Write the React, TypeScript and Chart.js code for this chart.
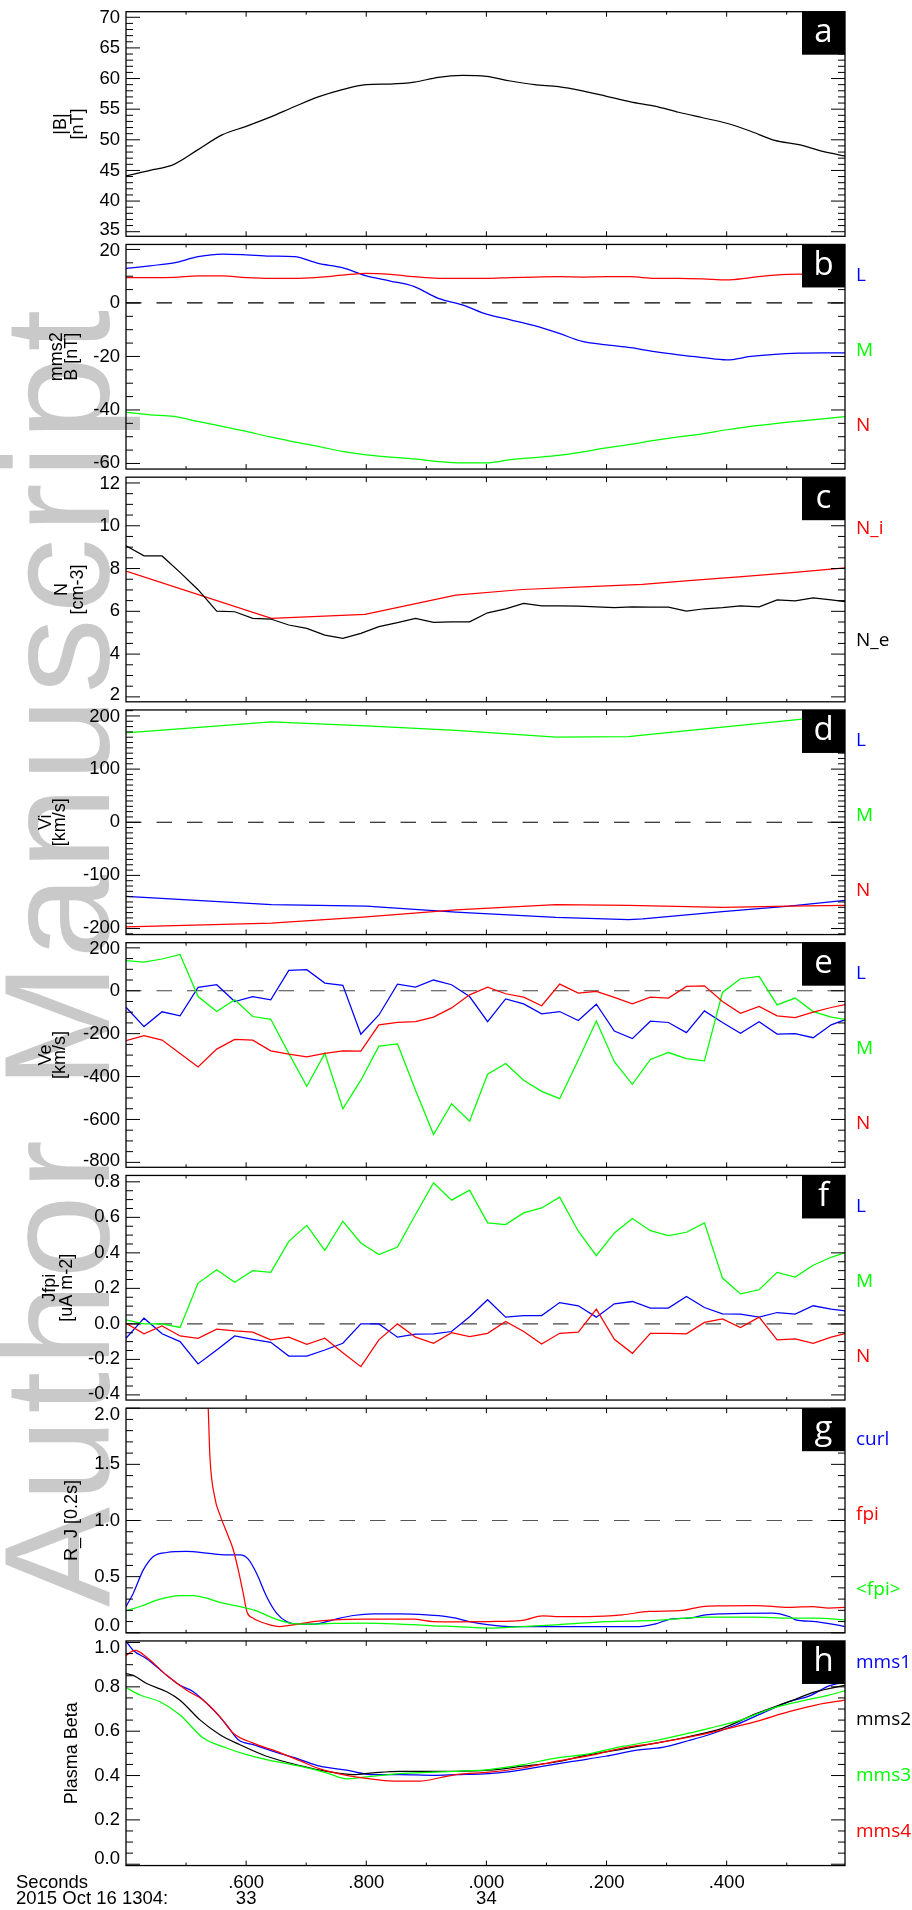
import React, { useEffect, useRef } from "react";
import { Chart, registerables } from "chart.js";

Chart.register(...registerables);

// ---------------------------------------------------------------------------
// Time axis (seconds after 13:04, 2015 Oct 16)
// ---------------------------------------------------------------------------
const T_START = 33.4;
const T_END = 34.597;

const xMinorTicks = [33.5, 33.7, 33.9, 34.1, 34.3, 34.5];
const xMajorTicks = [33.6, 33.8, 34.0, 34.2, 34.4];
const xMajorLabels = [".600", ".800", ".000", ".200", ".400"];
const xSecondLabels = ["33", "", "34", "", ""];

// 40 ms grid for the field / beta panels
const fieldTimes = [
  33.4, 33.44, 33.48, 33.52, 33.56, 33.6, 33.64, 33.68, 33.72, 33.76, 33.8,
  33.84, 33.88, 33.92, 33.96, 34.0, 34.04, 34.08, 34.12, 34.16, 34.2, 34.24,
  34.28, 34.32, 34.36, 34.4, 34.44, 34.48, 34.52, 34.56, 34.6,
];

// 30 ms FPI electron cadence
const fpiTimes = [
  33.4, 33.43, 33.46, 33.49, 33.52, 33.551, 33.581, 33.611, 33.641, 33.671,
  33.701, 33.731, 33.761, 33.791, 33.821, 33.852, 33.882, 33.912, 33.942,
  33.972, 34.002, 34.032, 34.062, 34.092, 34.122, 34.153, 34.183, 34.213,
  34.243, 34.273, 34.303, 34.333, 34.363, 34.393, 34.423, 34.454, 34.484,
  34.514, 34.544, 34.574, 34.604,
];

// (a) |B| [nT]
const absB = [
  44.1, 45.0, 46.0, 48.4, 50.8, 52.2, 53.7, 55.4, 57.0, 58.2, 59.0, 59.1, 59.4,
  60.2, 60.5, 60.35, 59.6, 59.0, 58.7, 58.0, 57.1, 56.2, 55.5, 54.5, 53.6, 52.7,
  51.4, 49.9, 49.2, 48.1, 47.3,
];

// (b) B mms2 LMN [nT]
const bL = [
  12.9, 13.9, 15.0, 17.3, 18.3, 18.0, 17.5, 17.3, 14.8, 13.2, 10.1, 8.2, 6.1,
  1.7, -0.7, -4.2, -6.3, -8.5, -11.3, -14.4, -15.7, -16.7, -18.2, -19.4, -20.4,
  -21.3, -20.0, -19.2, -18.8, -18.7, -18.7,
];
const bM = [
  -40.9, -41.8, -42.4, -44.3, -46.1, -48.0, -50.1, -51.9, -53.6, -55.5, -56.8,
  -57.6, -58.3, -59.3, -59.8, -59.8, -58.6, -57.8, -57.0, -55.7, -54.2, -52.9,
  -51.4, -50.1, -48.9, -47.4, -46.1, -45.1, -44.2, -43.3, -42.4,
];
const bN = [
  9.5, 9.5, 9.6, 10.1, 10.1, 9.5, 9.2, 9.2, 9.6, 10.4, 11.1, 10.7, 9.8, 9.2,
  9.2, 9.2, 9.5, 9.7, 9.8, 9.7, 9.8, 9.8, 9.2, 9.2, 9.0, 8.6, 9.5, 10.4, 10.8,
  10.4, 10.2,
];

// (c) densities [cm-3]
const nIon: [number, number][] = [
  [33.4, 7.88], [33.642, 5.67], [33.798, 5.86], [33.949, 6.76], [34.06, 7.02],
  [34.171, 7.15], [34.26, 7.26], [34.337, 7.43], [34.42, 7.61], [34.504, 7.8],
  [34.597, 8.03],
];
const nElectron = [
  9.06, 8.59, 8.59, 7.82, 7.01, 6.01, 5.98, 5.67, 5.64, 5.36, 5.2, 4.89, 4.74,
  4.97, 5.28, 5.47, 5.67, 5.48, 5.51, 5.51, 5.93, 6.11, 6.37, 6.26, 6.26, 6.24,
  6.21, 6.17, 6.21, 6.2, 6.2, 6.01, 6.12, 6.17, 6.26, 6.21, 6.53, 6.49, 6.63,
  6.53, 6.43,
];

// (d) ion velocity LMN [km/s]
const viL: [number, number][] = [
  [33.4, -139.6], [33.642, -155], [33.8, -158], [33.949, -169], [34.116, -179],
  [34.237, -183], [34.26, -182], [34.393, -168], [34.504, -158], [34.597, -147],
];
const viM: [number, number][] = [
  [33.4, 168], [33.642, 189], [33.8, 181.5], [33.949, 173], [34.116, 160],
  [34.237, 161], [34.26, 164], [34.526, 194], [34.597, 202],
];
const viN: [number, number][] = [
  [33.4, -197], [33.642, -190], [33.8, -178], [33.949, -165], [34.116, -155],
  [34.237, -156.5], [34.393, -160], [34.504, -158], [34.597, -156.5],
];

// (e) electron velocity LMN [km/s]
const veL = [
  -77, -167, -98, -117, 16, 28, -50, -27, -42, 95, 98, 36, 25, -203, -113, 31,
  17, 50, 28, -27, -144, -38, -61, -108, -97, -139, -63, -188, -223, -142, -148,
  -195, -94, -148, -198, -144, -202, -200, -219, -159, -128,
];
const veM = [
  140, 134, 148, 169, -27, -97, -42, -120, -133, -292, -445, -292, -550, -417,
  -258, -248, -464, -670, -527, -608, -389, -339, -417, -469, -503, -323, -141,
  -331, -436, -320, -288, -316, -327, -8, 56, 67, -66, -34, -97, -123, -136,
];
const veN = [
  -233, -209, -230, -292, -355, -272, -227, -230, -280, -295, -308, -292, -280,
  -281, -159, -147, -144, -123, -80, -19, 17, -14, -30, -70, 31, -11, -3, -31,
  -61, -30, -34, 20, 23, -50, -105, -73, -117, -125, -100, -78, -61,
];

// (f) FPI current density LMN [uA m-2]
const jL = [
  -0.081, 0.032, -0.056, -0.1, -0.226, -0.147, -0.068, -0.087, -0.104, -0.181,
  -0.181, -0.147, -0.109, 0.0, 0.0, -0.075, -0.058, -0.056, -0.043, 0.04,
  0.136, 0.038, 0.047, 0.047, 0.12, 0.102, 0.038, 0.113, 0.126, 0.089, 0.089,
  0.154, 0.092, 0.056, 0.055, 0.038, 0.064, 0.055, 0.102, 0.083, 0.07,
];
const jM = [
  0.023, 0.0, 0.0, -0.02, 0.23, 0.305, 0.235, 0.3, 0.29, 0.465, 0.555, 0.414,
  0.578, 0.456, 0.39, 0.433, 0.616, 0.795, 0.697, 0.753, 0.569, 0.559, 0.625,
  0.653, 0.714, 0.522, 0.384, 0.512, 0.593, 0.525, 0.497, 0.516, 0.569, 0.258,
  0.169, 0.192, 0.29, 0.264, 0.33, 0.375, 0.409,
];
const jN = [
  0.004, -0.056, -0.011, -0.068, -0.081, -0.03, -0.04, -0.047, -0.09, -0.075,
  -0.115, -0.081, -0.162, -0.241, -0.09, 0.0, -0.075, -0.109, -0.05, -0.072,
  -0.053, 0.013, -0.043, -0.113, -0.053, -0.047, 0.083, -0.087, -0.166, -0.053,
  -0.053, -0.056, 0.008, 0.028, -0.021, 0.038, -0.09, -0.085, -0.109, -0.075,
  -0.049,
];

// (g) R_J over 0.2 s
const rjCurl: [number, number][] = [
  [33.4, 0.234], [33.4122, 0.353], [33.4288, 0.56], [33.4455, 0.68],
  [33.4677, 0.715], [33.501, 0.724], [33.5342, 0.709], [33.5675, 0.694],
  [33.5896, 0.694], [33.6035, 0.656], [33.6173, 0.53], [33.634, 0.323],
  [33.6506, 0.175], [33.6673, 0.1], [33.6895, 0.077], [33.7173, 0.08],
  [33.745, 0.116], [33.7783, 0.154], [33.8116, 0.169], [33.8561, 0.169],
  [33.9005, 0.16], [33.9338, 0.145], [33.9494, 0.13], [33.9713, 0.1],
  [34.0046, 0.071], [34.0379, 0.056], [34.1433, 0.056], [34.2541, 0.056],
  [34.2818, 0.08], [34.3096, 0.125], [34.3373, 0.13], [34.365, 0.16],
  [34.3928, 0.169], [34.476, 0.175], [34.5037, 0.145], [34.5148, 0.116],
  [34.5482, 0.1], [34.5965, 0.056],
];
const rjFpi: [number, number][] = [
  [33.5342, 2.3], [33.5369, 2.0], [33.5397, 1.57], [33.548, 1.2],
  [33.5564, 1.05], [33.5702, 0.86], [33.5786, 0.74], [33.5869, 0.56],
  [33.5952, 0.35], [33.6018, 0.18], [33.6118, 0.13], [33.634, 0.08],
  [33.6562, 0.056], [33.6784, 0.071], [33.7117, 0.1], [33.745, 0.116],
  [33.8005, 0.122], [33.8782, 0.122], [33.9116, 0.1], [33.9494, 0.098],
  [34.0046, 0.1], [34.0601, 0.11], [34.0934, 0.151], [34.1156, 0.145],
  [34.1709, 0.145], [34.2264, 0.16], [34.2707, 0.19], [34.3262, 0.199],
  [34.3595, 0.234], [34.3928, 0.24], [34.4482, 0.243], [34.5037, 0.226],
  [34.5426, 0.234], [34.5704, 0.22], [34.5965, 0.226],
];
const rjFpiAvg: [number, number][] = [
  [33.4, 0.196], [33.4233, 0.234], [33.4566, 0.3], [33.4899, 0.332],
  [33.512, 0.332], [33.5342, 0.309], [33.5564, 0.27], [33.5896, 0.234],
  [33.6173, 0.196], [33.6451, 0.13], [33.6729, 0.086], [33.7006, 0.077],
  [33.745, 0.083], [33.8005, 0.086], [33.8561, 0.077], [33.9116, 0.062],
  [33.9494, 0.056], [34.0046, 0.042], [34.0601, 0.056], [34.1156, 0.071],
  [34.1986, 0.1], [34.2818, 0.11], [34.365, 0.14], [34.4482, 0.14],
  [34.5037, 0.13], [34.5482, 0.13], [34.5965, 0.116],
];

// (h) plasma beta, four spacecraft
const betaMms1: [number, number][] = [
  [33.4, 1.006], [33.4122, 0.964], [33.4344, 0.927], [33.4677, 0.852],
  [33.4899, 0.807], [33.512, 0.778], [33.5453, 0.696], [33.5675, 0.628],
  [33.5869, 0.561], [33.6118, 0.539], [33.6451, 0.509], [33.6895, 0.472],
  [33.7228, 0.442], [33.7672, 0.424], [33.8116, 0.404], [33.8561, 0.404],
  [33.9116, 0.401], [33.9494, 0.404], [34.0046, 0.409], [34.0323, 0.415],
  [34.0878, 0.439], [34.1433, 0.464], [34.1986, 0.487], [34.2541, 0.516],
  [34.2929, 0.527], [34.3373, 0.558], [34.3706, 0.584], [34.415, 0.628],
  [34.4649, 0.688], [34.5037, 0.733], [34.537, 0.758], [34.5704, 0.804],
  [34.5965, 0.822],
];
const betaMms2: [number, number][] = [
  [33.4, 0.86], [33.4122, 0.852], [33.4344, 0.815], [33.4677, 0.778],
  [33.4899, 0.74], [33.5231, 0.651], [33.5564, 0.584], [33.5896, 0.539],
  [33.634, 0.487], [33.6895, 0.445], [33.7339, 0.419], [33.7783, 0.404],
  [33.8116, 0.412], [33.8561, 0.419], [33.9494, 0.419], [34.0046, 0.424],
  [34.0601, 0.442], [34.1156, 0.461], [34.1709, 0.494], [34.2264, 0.519],
  [34.2818, 0.546], [34.3373, 0.576], [34.3928, 0.613], [34.4482, 0.678],
  [34.5037, 0.733], [34.5482, 0.778], [34.5965, 0.807],
];
const betaMms3: [number, number][] = [
  [33.4, 0.797], [33.4233, 0.763], [33.4566, 0.733], [33.4899, 0.673],
  [33.5287, 0.569], [33.5675, 0.524], [33.6007, 0.494], [33.634, 0.472],
  [33.6895, 0.442], [33.7339, 0.412], [33.7672, 0.385], [33.8005, 0.394],
  [33.8561, 0.409], [33.9116, 0.415], [33.9494, 0.419], [34.0046, 0.427],
  [34.0601, 0.449], [34.1156, 0.479], [34.1709, 0.498], [34.2264, 0.531],
  [34.2818, 0.558], [34.3373, 0.591], [34.3706, 0.613], [34.4205, 0.648],
  [34.476, 0.703], [34.5315, 0.74], [34.5704, 0.763], [34.5965, 0.782],
];
const betaMms4: [number, number][] = [
  [33.4, 0.942], [33.415, 0.964], [33.4344, 0.934], [33.4677, 0.852],
  [33.501, 0.785], [33.5287, 0.74], [33.5564, 0.666], [33.5786, 0.591],
  [33.6118, 0.546], [33.6506, 0.509], [33.6895, 0.467], [33.7228, 0.43],
  [33.7672, 0.401], [33.8005, 0.387], [33.8449, 0.375], [33.8894, 0.375],
  [33.9227, 0.39], [33.9494, 0.404], [34.0046, 0.415], [34.0601, 0.434],
  [34.1156, 0.464], [34.1709, 0.49], [34.2264, 0.524], [34.2818, 0.546],
  [34.3373, 0.573], [34.3928, 0.606], [34.4482, 0.643], [34.5037, 0.688],
  [34.5482, 0.718], [34.5965, 0.74],
];

// Y tick labels per panel
const ticksA = [35, 40, 45, 50, 55, 60, 65, 70];
const ticksB = [-60, -40, -20, 0, 20];
const ticksC = [2, 4, 6, 8, 10, 12];
const ticksD = [-200, -100, 0, 100, 200];
const ticksE = [-800, -600, -400, -200, 0, 200];
const ticksF = [-0.4, -0.2, 0.0, 0.2, 0.4, 0.6, 0.8];
const ticksG = [0.0, 0.5, 1.0, 1.5, 2.0];
const ticksH = [0.0, 0.2, 0.4, 0.6, 0.8, 1.0];

// ---------------------------------------------------------------------------
const BLUE = "#0000ff";
const GREEN = "#00ff00";
const RED = "#ff0000";
const BLACK = "#000000";

const FONT_AXIS = '"Liberation Sans", Arial, Helvetica, sans-serif';
const FONT_NOTE = '"Open Sans", "Liberation Sans", sans-serif';

const PAGE_W = 912;
const PAGE_H = 1910;
const PLOT_LEFT = 126;
const PLOT_RIGHT = 845;
const PANEL_TOP0 = 11.7;
const PANEL_STEP = 232.75;
const PANEL_H = 224.6;

type Pt = { x: number; y: number };
const zip = (xs: number[], ys: number[]): Pt[] => ys.map((y, i) => ({ x: xs[i], y }));
const pairs = (p: [number, number][]): Pt[] => p.map(([x, y]) => ({ x, y }));

interface Series { color: string; points: Pt[] }
interface Note { text: string; color: string; dy: number }
interface PanelSpec {
  letter: string;
  yMin: number;
  yMax: number;
  major: number;
  minor: number;
  ticks: number[];
  decimals: number;
  titles: { text: string; x: number }[];
  series: Series[];
  refLine?: { value: number; color: string };
  smooth: boolean;
  notes: Note[];
}

const LMN: Note[] = [
  { text: "L", color: BLUE, dy: 31 },
  { text: "M", color: GREEN, dy: 106 },
  { text: "N", color: RED, dy: 181 },
];

const panels: PanelSpec[] = [
  {
    letter: "a", yMin: 34.25, yMax: 70.91, major: 5, minor: 1, ticks: ticksA, decimals: 0,
    titles: [{ text: "|B|", x: 61 }, { text: "[nT]", x: 78.4 }],
    series: [{ color: BLACK, points: zip(fieldTimes, absB) }],
    smooth: true, notes: [],
  },
  {
    letter: "b", yMin: -62.09, yMax: 21.87, major: 20, minor: 5, ticks: ticksB, decimals: 0,
    titles: [{ text: "mms2", x: 57.4 }, { text: "B [nT]", x: 72.3 }],
    series: [
      { color: BLUE, points: zip(fieldTimes, bL) },
      { color: GREEN, points: zip(fieldTimes, bM) },
      { color: RED, points: zip(fieldTimes, bN) },
    ],
    refLine: { value: 0, color: "#000" }, smooth: true, notes: LMN,
  },
  {
    letter: "c", yMin: 1.77, yMax: 12.27, major: 2, minor: 0.5, ticks: ticksC, decimals: 0,
    titles: [{ text: "N", x: 62.1 }, { text: "[cm-3]", x: 77.6 }],
    series: [
      { color: RED, points: pairs(nIon) },
      { color: BLACK, points: zip(fpiTimes, nElectron) },
    ],
    smooth: false,
    notes: [
      { text: "N_i", color: RED, dy: 51 },
      { text: "N_e", color: BLACK, dy: 163 },
    ],
  },
  {
    letter: "d", yMin: -211.3, yMax: 211.3, major: 100, minor: 10, ticks: ticksD, decimals: 0,
    titles: [{ text: "Vi", x: 45.8 }, { text: "[km/s]", x: 60.1 }],
    series: [
      { color: BLUE, points: pairs(viL) },
      { color: GREEN, points: pairs(viM) },
      { color: RED, points: pairs(viN) },
    ],
    refLine: { value: 0, color: "#000" }, smooth: false, notes: LMN,
  },
  {
    letter: "e", yMin: -823, yMax: 224, major: 200, minor: 50, ticks: ticksE, decimals: 0,
    titles: [{ text: "Ve", x: 45.6 }, { text: "[km/s]", x: 60.4 }],
    series: [
      { color: BLUE, points: zip(fpiTimes, veL) },
      { color: GREEN, points: zip(fpiTimes, veM) },
      { color: RED, points: zip(fpiTimes, veN) },
    ],
    refLine: { value: 0, color: "#444" }, smooth: false, notes: LMN,
  },
  {
    letter: "f", yMin: -0.429, yMax: 0.836, major: 0.2, minor: 0.05, ticks: ticksF, decimals: 1,
    titles: [{ text: "Jfpi", x: 49.6 }, { text: "[uA m-2]", x: 67.1 }],
    series: [
      { color: BLUE, points: zip(fpiTimes, jL) },
      { color: GREEN, points: zip(fpiTimes, jM) },
      { color: RED, points: zip(fpiTimes, jN) },
    ],
    refLine: { value: 0, color: "#444" }, smooth: false, notes: LMN,
  },
  {
    letter: "g", yMin: 0, yMax: 2, major: 0.5, minor: 0.1, ticks: ticksG, decimals: 1,
    titles: [{ text: "R_J [0.2s]", x: 71.7 }],
    series: [
      { color: BLUE, points: pairs(rjCurl) },
      { color: RED, points: pairs(rjFpi) },
      { color: GREEN, points: pairs(rjFpiAvg) },
    ],
    refLine: { value: 1, color: "#555" }, smooth: true,
    notes: [
      { text: "curl", color: BLUE, dy: 31.5 },
      { text: "fpi", color: RED, dy: 106.5 },
      { text: "<fpi>", color: GREEN, dy: 181.5 },
    ],
  },
  {
    letter: "h", yMin: -0.006, yMax: 1.007, major: 0.2, minor: 0.05, ticks: ticksH, decimals: 1,
    titles: [{ text: "Plasma Beta", x: 71.7 }],
    series: [
      { color: BLUE, points: pairs(betaMms1) },
      { color: BLACK, points: pairs(betaMms2) },
      { color: GREEN, points: pairs(betaMms3) },
      { color: RED, points: pairs(betaMms4) },
    ],
    smooth: true,
    notes: [
      { text: "mms1", color: BLUE, dy: 21.7 },
      { text: "mms2", color: BLACK, dy: 79 },
      { text: "mms3", color: GREEN, dy: 134.7 },
      { text: "mms4", color: RED, dy: 190.7 },
    ],
  },
];

function formatTick(v: number, decimals: number): string {
  const s = v.toFixed(decimals);
  return s === "-0" || s === "-0.0" ? s.slice(1) : s;
}

function Panel({ spec, index, last }: { spec: PanelSpec; index: number; last: boolean }) {
  const ref = useRef<HTMLCanvasElement | null>(null);
  const top = PANEL_TOP0 + index * PANEL_STEP;
  const canvasTop = Math.floor(top) - 20;
  const canvasH = last ? PAGE_H - canvasTop : Math.ceil(PANEL_H) + 40;

  useEffect(() => {
    const canvas = ref.current;
    if (!canvas) return;
    const padTop = top - canvasTop;
    const padBottom = canvasH - padTop - PANEL_H;
    const n = spec.series.length;

    const datasets: any[] = spec.series.map((s, i) => ({
      data: s.points,
      borderColor: s.color,
      borderWidth: 1.25,
      pointRadius: 0,
      fill: false,
      tension: spec.smooth ? 0.4 : 0,
      cubicInterpolationMode: spec.smooth ? "monotone" : "default",
      order: n - i,
    }));
    if (spec.refLine) {
      datasets.push({
        data: [
          { x: T_START, y: spec.refLine.value },
          { x: T_END, y: spec.refLine.value },
        ],
        borderColor: spec.refLine.color,
        borderWidth: 1.2,
        borderDash: [15.5, 15],
        pointRadius: 0,
        fill: false,
        tension: 0,
        order: n + 5,
      });
    }

    const decor = {
      id: "panelDecor",
      afterDatasetsDraw(chart: any) {
        const { ctx, chartArea: a, scales } = chart;
        const xs = scales.x;
        const ys = scales.y;
        ctx.save();

        // y tick marks on both vertical axes, pointing inward
        ctx.strokeStyle = "#000";
        ctx.lineWidth = 1;
        const k0 = Math.ceil(spec.yMin / spec.minor - 1e-6);
        const k1 = Math.floor(spec.yMax / spec.minor + 1e-6);
        for (let k = k0; k <= k1; k++) {
          const v = k * spec.minor;
          const y = ys.getPixelForValue(v);
          const r = v / spec.major;
          const len = Math.abs(r - Math.round(r)) < 1e-6 ? 14 : 7;
          ctx.beginPath();
          ctx.moveTo(a.left, y);
          ctx.lineTo(a.left + len, y);
          ctx.moveTo(a.right, y);
          ctx.lineTo(a.right - len, y);
          ctx.stroke();
        }

        // x tick marks on top and bottom axes
        const drawX = (t: number, len: number) => {
          const x = xs.getPixelForValue(t);
          ctx.beginPath();
          ctx.moveTo(x, a.top);
          ctx.lineTo(x, a.top + len);
          ctx.moveTo(x, a.bottom);
          ctx.lineTo(x, a.bottom - len);
          ctx.stroke();
        };
        xMinorTicks.forEach((t) => drawX(t, 3));
        xMajorTicks.forEach((t) => drawX(t, 5));

        // frame
        ctx.lineWidth = 1.3;
        ctx.strokeRect(a.left, a.top, a.right - a.left, a.bottom - a.top);

        // y tick labels
        ctx.fillStyle = "#000";
        ctx.font = `18.5px ${FONT_AXIS}`;
        ctx.textAlign = "right";
        ctx.textBaseline = "middle";
        spec.ticks.forEach((v) => {
          let y = ys.getPixelForValue(v);
          y = Math.min(Math.max(y, a.top + 6.5), a.bottom - 6.5);
          ctx.fillText(formatTick(v, spec.decimals), a.left - 6, y);
        });

        // rotated axis title
        const cy = (a.top + a.bottom) / 2;
        ctx.font = `18px ${FONT_AXIS}`;
        ctx.textAlign = "center";
        spec.titles.forEach((t) => {
          ctx.save();
          ctx.translate(t.x, cy);
          ctx.rotate(-Math.PI / 2);
          ctx.fillText(t.text, 0, 0);
          ctx.restore();
        });

        // panel letter box
        ctx.fillStyle = "#000";
        ctx.fillRect(a.right - 43, a.top, 43, 43);
        ctx.fillStyle = "#fff";
        ctx.font = `33px ${FONT_NOTE}`;
        ctx.textAlign = "center";
        ctx.textBaseline = "alphabetic";
        ctx.fillText(spec.letter, a.right - 21.5, a.top + 30.5);

        // component labels on the right
        ctx.font = `19px ${FONT_NOTE}`;
        ctx.textAlign = "left";
        ctx.textBaseline = "middle";
        spec.notes.forEach((nt) => {
          ctx.fillStyle = nt.color;
          ctx.fillText(nt.text, a.right + 11, a.top + nt.dy);
        });

        // time axis annotation under the last panel
        if (last) {
          ctx.fillStyle = "#000";
          ctx.font = `18.5px ${FONT_AXIS}`;
          ctx.textAlign = "center";
          xMajorTicks.forEach((t, i) => {
            const x = xs.getPixelForValue(t);
            ctx.fillText(xMajorLabels[i], x, a.bottom + 17.3);
            if (xSecondLabels[i]) ctx.fillText(xSecondLabels[i], x, a.bottom + 33);
          });
          ctx.textAlign = "left";
          ctx.fillText("Seconds", 16, a.bottom + 17.3);
          ctx.fillText("2015 Oct 16 1304:", 16, a.bottom + 33);
        }
        ctx.restore();
      },
    };

    const chart = new Chart(canvas, {
      type: "line",
      data: { datasets },
      options: {
        animation: false,
        responsive: false,
        devicePixelRatio: 1,
        events: [],
        layout: {
          padding: { left: PLOT_LEFT, right: PAGE_W - PLOT_RIGHT, top: padTop, bottom: padBottom },
        },
        plugins: { legend: { display: false }, tooltip: { enabled: false }, title: { display: false } },
        scales: {
          x: { type: "linear", min: T_START, max: T_END, display: false },
          y: { type: "linear", min: spec.yMin, max: spec.yMax, display: false },
        },
      } as any,
      plugins: [decor],
    });
    return () => chart.destroy();
  }, []);

  return (
    <canvas
      ref={ref}
      width={PAGE_W}
      height={canvasH}
      style={{ position: "absolute", left: 0, top: canvasTop, width: PAGE_W, height: canvasH }}
    />
  );
}

export default function App() {
  return (
    <div
      style={{
        position: "absolute",
        left: 0,
        top: 0,
        width: PAGE_W,
        height: PAGE_H,
        background: "#fff",
        overflow: "hidden",
      }}
    >
      <div
        style={{
          position: "absolute",
          left: -17.6,
          top: 1607,
          transform: "rotate(-90deg)",
          transformOrigin: "left top",
          whiteSpace: "nowrap",
          fontFamily: FONT_AXIS,
          fontSize: 150,
          lineHeight: 1,
          letterSpacing: 5,
          color: "#c9c9c9",
        }}
      >
        Author Manuscript
      </div>
      {panels.map((p, i) => (
        <Panel key={p.letter} spec={p} index={i} last={i === panels.length - 1} />
      ))}
    </div>
  );
}
